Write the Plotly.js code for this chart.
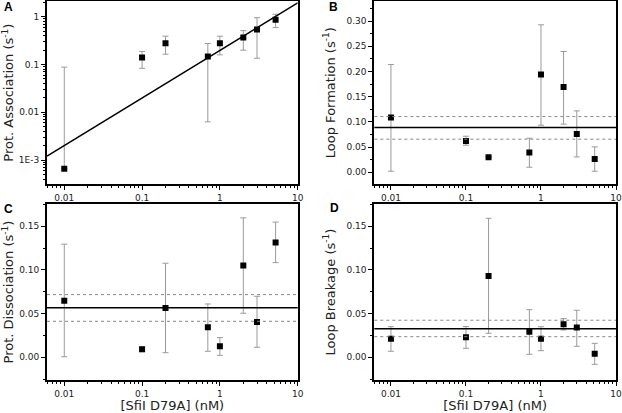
<!DOCTYPE html>
<html>
<head>
<meta charset="utf-8">
<script src="https://cdn.plot.ly/plotly-3.0.1.min.js"></script>
<style>html,body{margin:0;padding:0;background:#fff}#chart{width:622px;height:413px}</style>
</head>
<body>
<div id="chart"></div>
<script>
// ---- data ----
var conc = [0.01, 0.1, 0.2, 0.7, 1, 2, 3, 5.2];

var assocVal   = [0.00066, 0.140, 0.278, 0.147, 0.278, 0.365, 0.537, 0.866];
var assocHigh  = [0.088, 0.187, 0.390, 0.274, 0.390, 0.510, 0.950, 1.120];
var assocLow   = [0.00066, 0.083, 0.164, 0.0063, 0.159, 0.199, 0.135, 0.590];
var fitX = [0.006, 10];
var fitY = [0.00121, 1.95];

var loopFormVal  = [0.1085, 0.0622, 0.0298, 0.0390, 0.194, 0.169, 0.0760, 0.0264];
var loopFormHigh = [0.2138, 0.0715, 0.0310, 0.0675, 0.2927, 0.2397, 0.1218, 0.0503];
var loopFormLow  = [0.0020, 0.0536, 0.0286, 0.0099, 0.0934, 0.0954, 0.0304, 0.0020];
var loopFormMean = [0.0886, 0.1105, 0.0656]; // mean, upper, lower

var dissVal  = [0.0648, 0.0092, 0.0565, 0.0343, 0.0126, 0.105, 0.0404, 0.1313];
var dissHigh = [0.1294, 0.0118, 0.1076, 0.0610, 0.0225, 0.1595, 0.0698, 0.1546];
var dissLow  = [0.0007, 0.0065, 0.0053, 0.0069, 0.0023, 0.0504, 0.0115, 0.1083];
var dissMean = [0.0568, 0.0717, 0.0412];

var breakVal  = [0.0213, 0.0229, 0.0931, 0.0293, 0.0213, 0.0378, 0.0340, 0.0041];
var breakHigh = [0.0350, 0.0352, 0.1590, 0.0545, 0.0350, 0.0442, 0.0538, 0.0160];
var breakLow  = [0.0069, 0.0103, 0.0275, 0.0034, 0.0076, 0.0313, 0.0126, -0.0080];
var breakMean = [0.0328, 0.0424, 0.0236];

var xTickVals = [0.01, 0.1, 1, 10];
var xTickText = ['0.01', '0.1', '1', '10'];
var assocTickVals = [0.001, 0.01, 0.1, 1];
var assocTickText = ['1E-3', '0.01', '0.1', '1'];

// ---- helpers ----
function plus(v, h){ return v.map(function(x,i){ return h[i]-x; }); }
function minus(v, l){ return v.map(function(x,i){ return x-l[i]; }); }
function logMinor(a, b){ var out=[]; for(var e=a;e<=b;e++){ for(var m=2;m<=9;m++){ out.push(m*Math.pow(10,e)); } } return out; }

var FONT = 'DejaVu Sans, Verdana, sans-serif';
function pts(xa, ya, v, h, l){
  return {x: conc, y: v, xaxis: xa, yaxis: ya, type: 'scatter', mode: 'markers',
    marker: {symbol: 'square', size: 6, color: '#000'},
    error_y: {type: 'data', symmetric: false, array: plus(v,h), arrayminus: minus(v,l),
      color: '#9a9a9a', thickness: 1, width: 3},
    showlegend: false, hoverinfo: 'x+y'};
}

var traces = [
  pts('x','y', assocVal, assocHigh, assocLow),
  {x: fitX, y: fitY, xaxis: 'x', yaxis: 'y', type: 'scatter', mode: 'lines',
    line: {color: '#000', width: 1.5}, showlegend: false, hoverinfo: 'skip'},
  pts('x2','y2', loopFormVal, loopFormHigh, loopFormLow),
  pts('x3','y3', dissVal, dissHigh, dissLow),
  pts('x4','y4', breakVal, breakHigh, breakLow)
];

var xMinor = {tickmode: 'array', tickvals: logMinor(-3, 0), ticks: 'outside', ticklen: 2, tickcolor: '#000', tickwidth: 1};
function xaxis(dom, anchor, withTitle){
  var a = {type: 'log', domain: dom, anchor: anchor, range: [-2.222, 1],
    tickmode: 'array', tickvals: xTickVals, ticktext: xTickText,
    ticks: 'outside', ticklen: 4, tickwidth: 1, tickcolor: '#000',
    minor: xMinor, showgrid: false, zeroline: false,
    showline: true, linecolor: '#000', linewidth: 2, mirror: true,
    tickfont: {family: FONT, size: 9, color: '#222'}};
  if (withTitle) a.title = {text: '[SfiI D79A] (nM)', font: {family: FONT, size: 13, color: '#222'}, standoff: 6};
  return a;
}
function linY(dom, anchor, range, title){
  return {domain: dom, anchor: anchor, range: range, dtick: 0.05, tick0: 0, tickformat: '.2f',
    ticks: 'outside', ticklen: 4, tickwidth: 1, tickcolor: '#000',
    minor: {dtick: 0.025, ticks: 'outside', ticklen: 2, tickcolor: '#000', tickwidth: 1},
    showgrid: false, zeroline: false, showline: true, linecolor: '#000', linewidth: 2, mirror: true,
    tickfont: {family: FONT, size: 9, color: '#222'},
    title: {text: title, font: {family: FONT, size: 13, color: '#222'}, standoff: 8}};
}

var dxL = [47/622, 297.7/622], dxR = [374.3/622, 616/622];
var dyT = [1-184.3/413, 1-1/413], dyB = [1-379.7/413, 1-204.3/413];

var layout = {
  width: 622, height: 413, margin: {l: 0, r: 0, t: 0, b: 0},
  paper_bgcolor: '#fff', plot_bgcolor: '#fff', showlegend: false,
  font: {family: FONT, size: 9, color: '#222'},
  xaxis: xaxis(dxL, 'y', false),
  xaxis2: xaxis(dxR, 'y2', false),
  xaxis3: xaxis(dxL, 'y3', true),
  xaxis4: xaxis(dxR, 'y4', true),
  yaxis: {type: 'log', domain: dyT, anchor: 'x', range: [-3.506, 0.327],
    tickmode: 'array', tickvals: assocTickVals, ticktext: assocTickText,
    ticks: 'outside', ticklen: 4, tickwidth: 1, tickcolor: '#000',
    minor: {tickmode: 'array', tickvals: logMinor(-4, 0), ticks: 'outside', ticklen: 2, tickcolor: '#000', tickwidth: 1},
    showgrid: false, zeroline: false, showline: true, linecolor: '#000', linewidth: 2, mirror: true,
    tickfont: {family: FONT, size: 9, color: '#222'},
    title: {text: 'Prot. Association (s<sup>-1</sup>)', font: {family: FONT, size: 13, color: '#222'}, standoff: 8}},
  yaxis2: linY(dyT, 'x2', [-0.024, 0.34], 'Loop Formation (s<sup>-1</sup>)'),
  yaxis3: linY(dyB, 'x3', [-0.0256, 0.175], 'Prot. Dissociation (s<sup>-1</sup>)'),
  yaxis4: linY(dyB, 'x4', [-0.0256, 0.175], 'Loop Breakage (s<sup>-1</sup>)'),
  shapes: [],
  annotations: [
    {text: '<b>A</b>', x: 8/622, y: 1-7.5/413},
    {text: '<b>B</b>', x: 333/622, y: 1-7/413},
    {text: '<b>C</b>', x: 8/622, y: 1-208.5/413},
    {text: '<b>D</b>', x: 334/622, y: 1-208/413}
  ].map(function(a){ return Object.assign({xref: 'paper', yref: 'paper', showarrow: false,
    xanchor: 'center', yanchor: 'middle', font: {family: 'Liberation Sans, Arial, sans-serif', size: 12, color: '#000'}}, a); })
};

function meanLines(xa, ya, m){
  var s = [];
  s.push({type: 'line', xref: xa + ' domain', yref: ya, x0: 0, x1: 1, y0: m[0], y1: m[0], line: {color: '#000', width: 1.5}});
  for (var i = 1; i < 3; i++) s.push({type: 'line', xref: xa + ' domain', yref: ya, x0: 0, x1: 1, y0: m[i], y1: m[i], line: {color: '#888', width: 1, dash: 'dot'}});
  return s;
}
layout.shapes = layout.shapes.concat(meanLines('x2','y2', loopFormMean), meanLines('x3','y3', dissMean), meanLines('x4','y4', breakMean));

Plotly.newPlot('chart', traces, layout, {staticPlot: true, displayModeBar: false});
</script>
</body>
</html>
